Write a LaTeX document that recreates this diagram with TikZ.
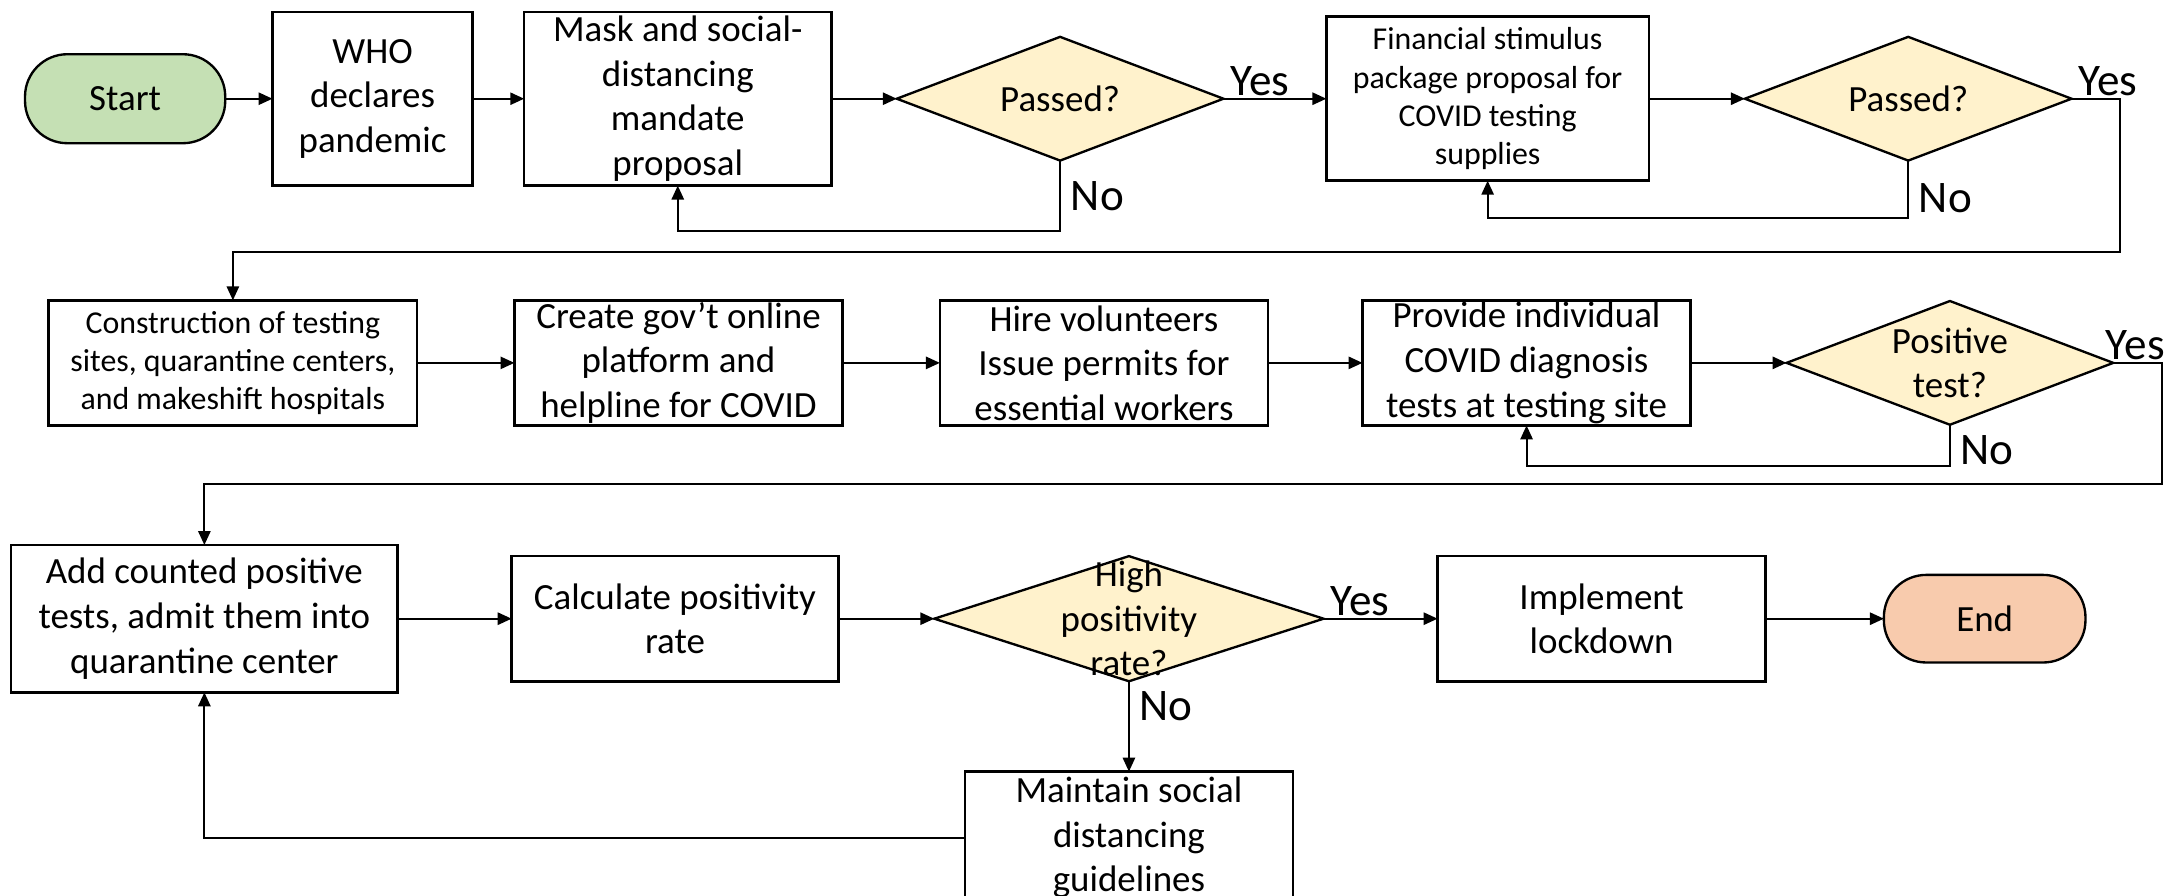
\documentclass[tikz,border=0pt]{standalone}
\usepackage{fontspec}
\setmainfont{Carlito}
\usepackage{tikz}
\usetikzlibrary{shapes.geometric, arrows.meta, positioning}
\definecolor{startgreen}{HTML}{C5E0B4}
\definecolor{endorange}{HTML}{F8CBAD}
\definecolor{decyellow}{HTML}{FFF2CC}

\begin{document}
\begin{tikzpicture}[
    node distance=1.75cm,
    block/.style={rectangle, draw=black, fill=white, minimum width=5.9cm,
                  minimum height=2.25cm, align=center, inner xsep=2pt, inner ysep=0pt,
                  outer sep=0pt, font=\fontsize{18.9}{22.8}\selectfont, line width=1.3pt},
    smalltxt/.style={font=\fontsize{16.3}{19.6}\selectfont},
    terminal/.style={rectangle, rounded corners=0.76cm, draw=black, minimum width=3.6cm,
                     minimum height=1.6cm, outer sep=0pt, font=\fontsize{18.9}{22.8}\selectfont,
                     line width=1.2pt},
    decision/.style={diamond, draw=black, fill=decyellow, minimum width=5.875cm,
                     minimum height=2.225cm, inner sep=0pt, outer sep=0pt, line width=1.2pt},
    dtext/.style={align=center, inner sep=0pt, font=\fontsize{18.9}{22.8}\selectfont},
    arrow/.style={-{Triangle[length=0.25cm, width=0.22cm]}, line width=1pt},
    lbl/.style={font=\fontsize{23.1}{27}\selectfont, inner xsep=3pt, inner ysep=1pt}
]
    \useasboundingbox[fill=white] (0,0) rectangle (39.2,-16.1);
    \clip (0,0) rectangle (39.2,-16.1);

    % first row: proposals
    \node[terminal, fill=startgreen] (start) at (2.25,-1.775) {Start};
    \node[block, minimum width=3.6cm, minimum height=3.125cm, right=0.85cm of start] (who) {WHO\\declares\\pandemic};
    \node[block, minimum width=5.525cm, minimum height=3.125cm, right=0.925cm of who] (mask) {Mask and social-\\distancing\\mandate\\proposal};
    \node[decision, right=1.175cm of mask] (pass1) {};
    \node[dtext] (pass1txt) at (pass1) {Passed?};
    \node[block, smalltxt, minimum width=5.8cm, minimum height=2.95cm, right=1.85cm of pass1] (fin) {Financial stimulus\\package proposal for\\COVID testing\\supplies};
    \node[decision, right=1.725cm of fin] (pass2) {};
    \node[dtext] (pass2txt) at (pass2) {Passed?};

    % second row: testing
    \node[block, smalltxt, minimum width=6.625cm] (constr) at (4.1875,-6.525) {Construction of testing\\sites, quarantine centers,\\and makeshift hospitals};
    \node[block, right=1.75cm of constr] (create) {Create gov’t online\\platform and\\helpline for COVID};
    \node[block, right=1.75cm of create] (hire) {Hire volunteers\\Issue permits for\\essential workers};
    \node[block, right=1.7cm of hire] (provide) {Provide individual\\COVID diagnosis\\tests at testing site};
    \node[decision, right=1.725cm of provide] (postest) {};
    \node[dtext] (postesttxt) at (postest) {Positive\\test?};

    % third row: positivity
    \node[block, minimum width=6.95cm, minimum height=2.65cm] (add) at (3.675,-11.125) {Add counted positive\\tests, admit them into\\quarantine center};
    \node[block, minimum width=5.875cm, right=2.05cm of add] (calc) {Calculate positivity\\rate};
    \node[decision, minimum width=7cm, minimum height=2.25cm, right=1.725cm of calc] (high) {};
    \node[dtext] (hightxt) at (high) {High\\positivity\\rate?};
    \node[block, right=2.05cm of high] (impl) {Implement\\lockdown};
    \node[terminal, fill=endorange, minimum width=3.625cm, minimum height=1.575cm, right=2.125cm of impl] (endn) {End};
    \node[block, minimum height=2.375cm, below=1.625cm of high] (maint) {Maintain social\\distancing\\guidelines};

    \draw[arrow] (start) -- (who);
    \draw[arrow] (who) -- (mask);
    \draw[arrow] (mask) -- (pass1);
    \draw[arrow] (pass1) -- node[lbl, at start, above right]{Yes} (fin);
    \draw[arrow] (pass1.south) -- node[lbl, at start, below right, inner sep=5pt, yshift=-0.18cm]{No} ++(0,-1.26) -| (mask.south);
    \draw[arrow] (fin) -- (pass2);
    \draw[arrow] (pass2.south) -- node[lbl, at start, below right, inner sep=5pt, yshift=-0.22cm]{No} ++(0,-1.04) -| (fin.south);
    \draw[arrow] (pass2.east) -- node[lbl, at start, above right]{Yes} ++(0.875,0) -- ++(0,-2.75) -| (constr.north);

    \draw[arrow] (constr) -- (create);
    \draw[arrow] (create) -- (hire);
    \draw[arrow] (hire) -- (provide);
    \draw[arrow] (provide) -- (postest);
    \draw[arrow] (postest.south) -- node[lbl, at start, below right, inner sep=5pt]{No} ++(0,-0.74) -| (provide.south);
    \draw[arrow] (postest.east) -- node[lbl, at start, above right, inner xsep=0pt, xshift=-0.15cm]{Yes} ++(0.875,0) -- ++(0,-2.175) -| (add.north);

    \draw[arrow] (add) -- (calc);
    \draw[arrow] (calc) -- (high);
    \draw[arrow] (high) -- node[lbl, at start, above right]{Yes} (impl);
    \draw[arrow] (impl) -- (endn);
    \draw[arrow] (high) -- node[lbl, at start, below right, inner sep=5pt]{No} (maint);
    \draw[arrow] (maint.west) -| (add.south);
\end{tikzpicture}
\end{document}
